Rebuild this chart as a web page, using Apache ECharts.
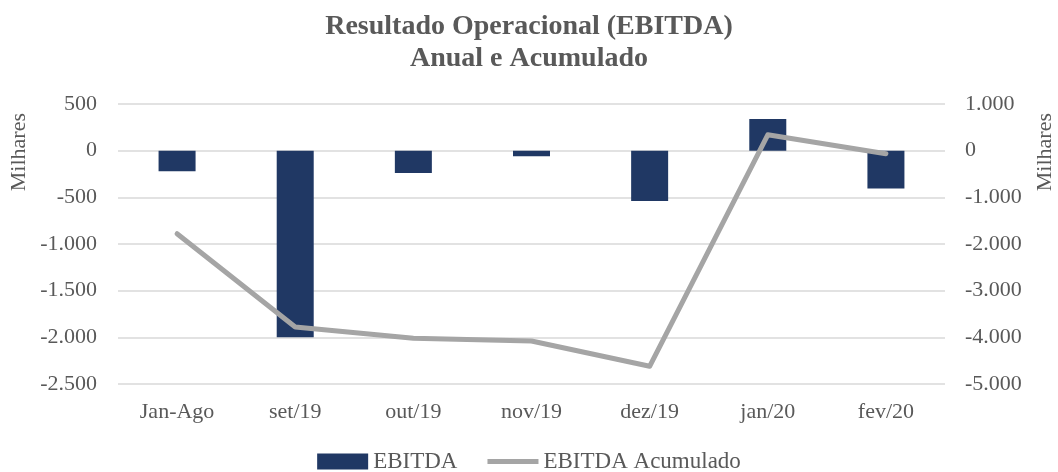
<!DOCTYPE html>
<html>
<head>
<meta charset="utf-8">
<script src="https://cdn.jsdelivr.net/npm/echarts@6/dist/echarts.min.js"></script>
<style>
  html, body { margin: 0; padding: 0; background: #fff; }
  #chart { width: 1058px; height: 472px; }
</style>
</head>
<body>
<div id="chart"></div>
<script>
// data (thousands)
const categories = ['Jan-Ago', 'set/19', 'out/19', 'nov/19', 'dez/19', 'jan/20', 'fev/20'];
const ebitda = [-220, -2000, -240, -60, -540, 340, -405];
const ebitdaAcumulado = [-1780, -3780, -4020, -4080, -4620, 340, -65];

const leftTicks = { min: -2500, max: 500, interval: 500 };
const rightTicks = { min: -5000, max: 1000, interval: 1000 };

const FONT = '"Liberation Serif", "DejaVu Serif", serif';
const GREY_TXT = '#595959';

const fmt = v => {
  const s = Math.abs(v).toString().replace(/\B(?=(\d{3})+(?!\d))/g, '.');
  return (v < 0 ? '-' : '') + s;
};

const chart = echarts.init(document.getElementById('chart'));

chart.setOption({
  backgroundColor: '#fff',
  animation: false,
  title: {
    text: 'Resultado Operacional (EBITDA)\nAnual e Acumulado',
    left: 'center',
    top: 6,
    textStyle: {
      fontFamily: FONT,
      fontWeight: 'bold',
      fontSize: 28,
      lineHeight: 32,
      color: GREY_TXT
    }
  },
  grid: { left: 118, right: 113, top: 104, bottom: 88 },
  legend: {
    bottom: -6,
    left: 'center',
    itemGap: 30,
    itemWidth: 51,
    itemHeight: 16,
    textStyle: { fontFamily: FONT, fontSize: 23, color: GREY_TXT },
    data: [
      { name: 'EBITDA', icon: 'rect' },
      { name: 'EBITDA Acumulado', icon: 'path://M0,0 H60 V6 H0 Z' }
    ]
  },
  xAxis: {
    type: 'category',
    data: categories,
    axisLine: { show: false, onZero: false },
    axisTick: { show: false },
    axisLabel: { fontFamily: FONT, fontSize: 22, color: GREY_TXT, margin: 17 }
  },
  yAxis: [
    {
      type: 'value',
      min: leftTicks.min, max: leftTicks.max, interval: leftTicks.interval,
      axisLine: { show: false },
      axisTick: { show: false },
      splitLine: { lineStyle: { color: '#D9D9D9', width: 1.5 } },
      axisLabel: { fontFamily: FONT, fontSize: 22, color: GREY_TXT, margin: 21, formatter: fmt }
    },
    {
      type: 'value',
      position: 'right',
      min: rightTicks.min, max: rightTicks.max, interval: rightTicks.interval,
      axisLine: { show: false },
      axisTick: { show: false },
      splitLine: { show: false },
      axisLabel: { fontFamily: FONT, fontSize: 22, color: GREY_TXT, margin: 20, formatter: fmt }
    }
  ],
  graphic: [
    {
      type: 'text', left: 8, top: 113, rotation: Math.PI / 2,
      style: { text: 'Milhares', fontFamily: FONT, fontSize: 22, fill: GREY_TXT }
    },
    {
      type: 'text', left: 1034, top: 113, rotation: Math.PI / 2,
      style: { text: 'Milhares', fontFamily: FONT, fontSize: 22, fill: GREY_TXT }
    }
  ],
  series: [
    {
      name: 'EBITDA',
      type: 'bar',
      data: ebitda,
      barWidth: 37,
      itemStyle: { color: '#203864' }
    },
    {
      name: 'EBITDA Acumulado',
      type: 'line',
      yAxisIndex: 1,
      data: ebitdaAcumulado,
      showSymbol: false,
      symbol: 'none',
      lineStyle: { color: '#A5A5A5', width: 5, cap: 'round', join: 'round' },
      itemStyle: { color: '#A5A5A5' }
    }
  ]
});
</script>
</body>
</html>
